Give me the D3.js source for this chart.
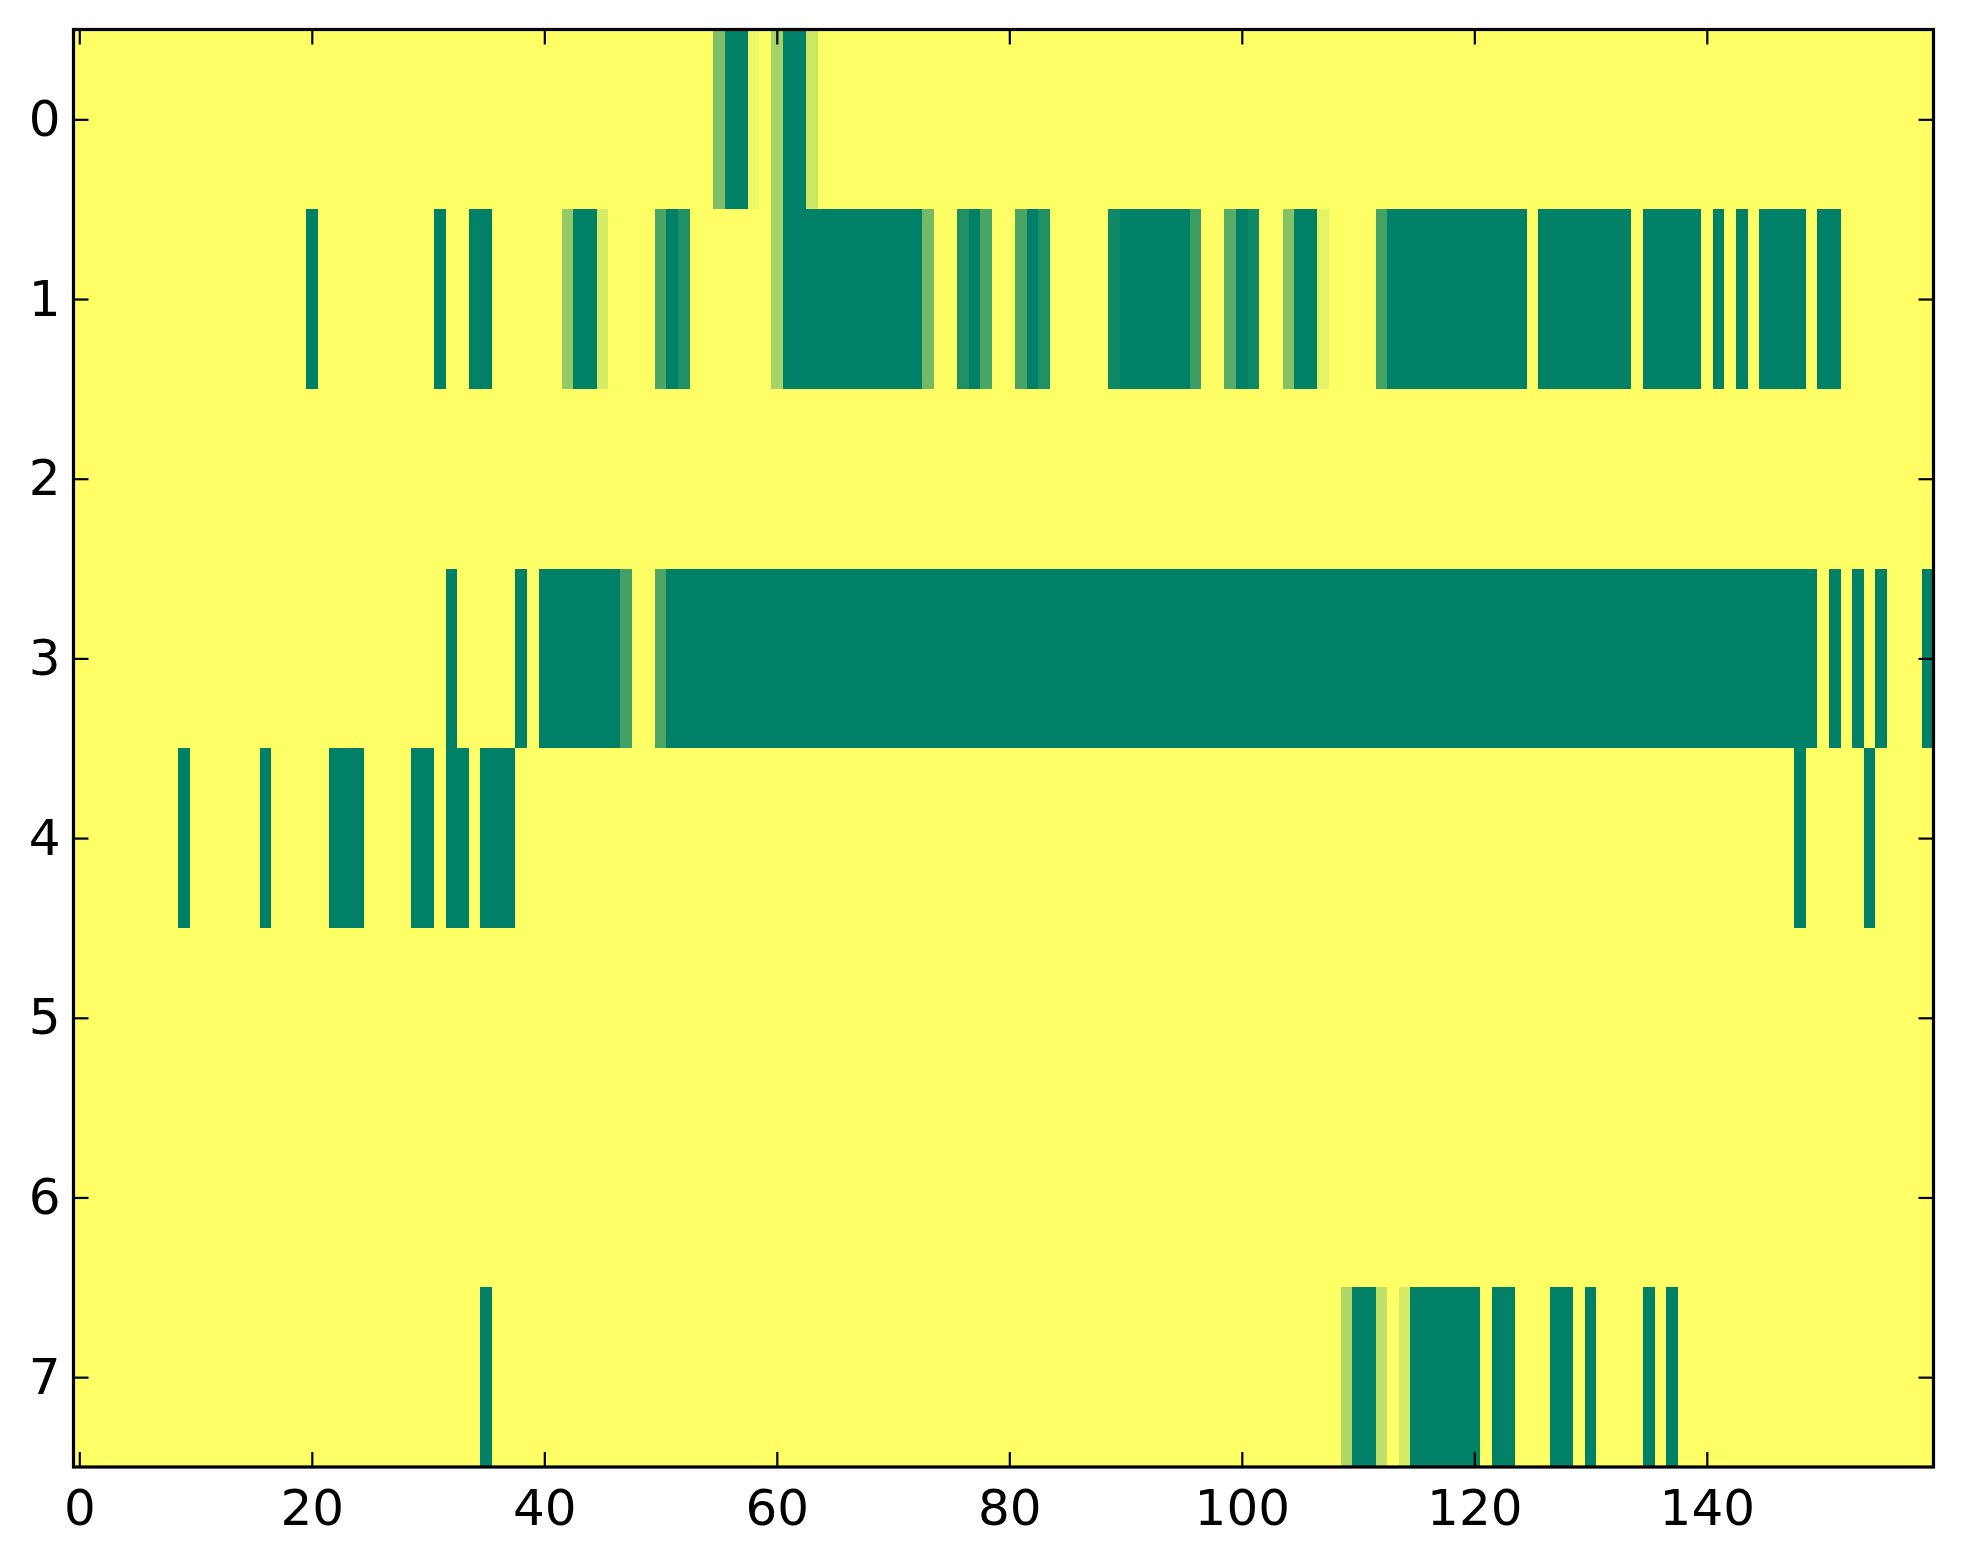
<!DOCTYPE html>
<html><head><meta charset="utf-8">
<script src="https://cdn.jsdelivr.net/npm/d3@7"></script>
<style>html,body{margin:0;padding:0;background:#fff;} svg{display:block;}</style>
</head><body>
<script>
// Row labels (y categories) and x tick labels
const rowLabels = [0, 1, 2, 3, 4, 5, 6, 7];
const xTickValues = [0, 20, 40, 60, 80, 100, 120, 140];

// Cell values per row, 160 columns each (0 = green, 1 = yellow)
const row0 = [
  1,1,1,1,1,1,1,1,1,1,1,1,1,1,1,1,1,1,1,1,
  1,1,1,1,1,1,1,1,1,1,1,1,1,1,1,1,1,1,1,1,
  1,1,1,1,1,1,1,1,1,1,1,1,1,1,1,0.49,0,0,0.94,1,
  0.65,0,0,0.8,1,1,1,1,1,1,1,1,1,1,1,1,1,1,1,1,
  1,1,1,1,1,1,1,1,1,1,1,1,1,1,1,1,1,1,1,1,
  1,1,1,1,1,1,1,1,1,1,1,1,1,1,1,1,1,1,1,1,
  1,1,1,1,1,1,1,1,1,1,1,1,1,1,1,1,1,1,1,1,
  1,1,1,1,1,1,1,1,1,1,1,1,1,1,1,1,1,1,1,1
];
const row1 = [
  1,1,1,1,1,1,1,1,1,1,1,1,1,1,1,1,1,1,1,1,
  0,1,1,1,1,1,1,1,1,1,1,0,1,1,0,0,1,1,1,1,
  1,1,0.58,0,0,0.84,1,1,1,1,0.29,0,0.12,1,1,1,1,1,1,1,
  0.65,0,0,0,0,0,0,0,0,0,0,0,0,0.45,1,1,0.12,0,0.29,1,
  1,0.29,0,0.12,1,1,1,1,1,0.06,0,0,0,0,0,0,0.23,1,1,0.35,
  0,0.06,1,1,0.52,0,0,0.9,1,1,1,1,0.27,0,0,0,0,0,0,0,
  0,0,0,0,0,1,0,0,0,0,0,0,0,0,1,0,0,0,0,0,
  1,0,1,0,1,0,0,0,0,1,0,0,1,1,1,1,1,1,1,1
];
const row2 = [
  1,1,1,1,1,1,1,1,1,1,1,1,1,1,1,1,1,1,1,1,
  1,1,1,1,1,1,1,1,1,1,1,1,1,1,1,1,1,1,1,1,
  1,1,1,1,1,1,1,1,1,1,1,1,1,1,1,1,1,1,1,1,
  1,1,1,1,1,1,1,1,1,1,1,1,1,1,1,1,1,1,1,1,
  1,1,1,1,1,1,1,1,1,1,1,1,1,1,1,1,1,1,1,1,
  1,1,1,1,1,1,1,1,1,1,1,1,1,1,1,1,1,1,1,1,
  1,1,1,1,1,1,1,1,1,1,1,1,1,1,1,1,1,1,1,1,
  1,1,1,1,1,1,1,1,1,1,1,1,1,1,1,1,1,1,1,1
];
const row3 = [
  1,1,1,1,1,1,1,1,1,1,1,1,1,1,1,1,1,1,1,1,
  1,1,1,1,1,1,1,1,1,1,1,1,0,1,1,1,1,1,0,1,
  0,0,0,0,0,0,0,0.26,1,1,0.3,0,0,0,0,0,0,0,0,0,
  0,0,0,0,0,0,0,0,0,0,0,0,0,0,0,0,0,0,0,0,
  0,0,0,0,0,0,0,0,0,0,0,0,0,0,0,0,0,0,0,0,
  0,0,0,0,0,0,0,0,0,0,0,0,0,0,0,0,0,0,0,0,
  0,0,0,0,0,0,0,0,0,0,0,0,0,0,0,0,0,0,0,0,
  0,0,0,0,0,0,0,0,0,0,1,0,1,0,1,0,1,1,1,0
];
const row4 = [
  1,1,1,1,1,1,1,1,1,0,1,1,1,1,1,1,0,1,1,1,
  1,1,0,0,0,1,1,1,1,0,0,1,0,0,1,0,0,0,1,1,
  1,1,1,1,1,1,1,1,1,1,1,1,1,1,1,1,1,1,1,1,
  1,1,1,1,1,1,1,1,1,1,1,1,1,1,1,1,1,1,1,1,
  1,1,1,1,1,1,1,1,1,1,1,1,1,1,1,1,1,1,1,1,
  1,1,1,1,1,1,1,1,1,1,1,1,1,1,1,1,1,1,1,1,
  1,1,1,1,1,1,1,1,1,1,1,1,1,1,1,1,1,1,1,1,
  1,1,1,1,1,1,1,1,0,1,1,1,1,1,0,1,1,1,1,1
];
const row5 = [
  1,1,1,1,1,1,1,1,1,1,1,1,1,1,1,1,1,1,1,1,
  1,1,1,1,1,1,1,1,1,1,1,1,1,1,1,1,1,1,1,1,
  1,1,1,1,1,1,1,1,1,1,1,1,1,1,1,1,1,1,1,1,
  1,1,1,1,1,1,1,1,1,1,1,1,1,1,1,1,1,1,1,1,
  1,1,1,1,1,1,1,1,1,1,1,1,1,1,1,1,1,1,1,1,
  1,1,1,1,1,1,1,1,1,1,1,1,1,1,1,1,1,1,1,1,
  1,1,1,1,1,1,1,1,1,1,1,1,1,1,1,1,1,1,1,1,
  1,1,1,1,1,1,1,1,1,1,1,1,1,1,1,1,1,1,1,1
];
const row6 = [
  1,1,1,1,1,1,1,1,1,1,1,1,1,1,1,1,1,1,1,1,
  1,1,1,1,1,1,1,1,1,1,1,1,1,1,1,1,1,1,1,1,
  1,1,1,1,1,1,1,1,1,1,1,1,1,1,1,1,1,1,1,1,
  1,1,1,1,1,1,1,1,1,1,1,1,1,1,1,1,1,1,1,1,
  1,1,1,1,1,1,1,1,1,1,1,1,1,1,1,1,1,1,1,1,
  1,1,1,1,1,1,1,1,1,1,1,1,1,1,1,1,1,1,1,1,
  1,1,1,1,1,1,1,1,1,1,1,1,1,1,1,1,1,1,1,1,
  1,1,1,1,1,1,1,1,1,1,1,1,1,1,1,1,1,1,1,1
];
const row7 = [
  1,1,1,1,1,1,1,1,1,1,1,1,1,1,1,1,1,1,1,1,
  1,1,1,1,1,1,1,1,1,1,1,1,1,1,1,0,1,1,1,1,
  1,1,1,1,1,1,1,1,1,1,1,1,1,1,1,1,1,1,1,1,
  1,1,1,1,1,1,1,1,1,1,1,1,1,1,1,1,1,1,1,1,
  1,1,1,1,1,1,1,1,1,1,1,1,1,1,1,1,1,1,1,1,
  1,1,1,1,1,1,1,1,1,0.68,0,0,0.75,1,0.84,0,0,0,0,0,
  0,1,0,0,1,1,1,0,0,1,0,1,1,1,1,0,1,0,1,1,
  1,1,1,1,1,1,1,1,1,1,1,1,1,1,1,1,1,1,1,1
];
const rows = [row0, row1, row2, row3, row4, row5, row6, row7];

const W = 1963, H = 1564;
const plot = {left: 73.5, right: 1933.5, top: 29.5, bottom: 1467};
const nCols = row0.length;

const x = d3.scaleLinear().domain([-0.5, nCols - 0.5]).range([plot.left, plot.right]);
const y = d3.scaleLinear().domain([-0.5, rows.length - 0.5]).range([plot.top, plot.bottom]);
const color = d3.scaleLinear().domain([0, 1]).range(["#008066", "#ffff66"]);

const svg = d3.select("body").append("svg")
  .attr("width", W).attr("height", H)
  .style("font-family", "'DejaVu Sans', sans-serif");
svg.append("rect").attr("width", W).attr("height", H).attr("fill", "#fff");

const cells = [];
rows.forEach((vals, r) => vals.forEach((v, c) => cells.push({r, c, v})));

svg.append("g").selectAll("rect").data(cells).join("rect")
  .attr("x", d => x(d.c - 0.5))
  .attr("y", d => y(d.r - 0.5))
  .attr("width", d => x(d.c + 0.5) - x(d.c - 0.5))
  .attr("height", d => y(d.r + 0.5) - y(d.r - 0.5))
  .attr("fill", d => color(d.v))
  .attr("shape-rendering", "crispEdges");

const fs = 50, tickLen = 15;

function styleAxis(g) {
  g.select(".domain").remove();
  g.selectAll(".tick line").attr("stroke", "#000").attr("stroke-width", 2.2);
  g.selectAll(".tick text").attr("fill", "#000").style("font-size", fs + "px")
    .style("font-family", "'DejaVu Sans', sans-serif");
}

svg.append("g").attr("transform", `translate(0,${plot.bottom})`)
  .call(d3.axisBottom(x).tickValues(xTickValues).tickSizeInner(-tickLen).tickSizeOuter(0).tickPadding(22))
  .call(styleAxis);
svg.append("g").attr("transform", `translate(0,${plot.top})`)
  .call(d3.axisTop(x).tickValues(xTickValues).tickSizeInner(-tickLen).tickSizeOuter(0).tickFormat(""))
  .call(styleAxis);
svg.append("g").attr("transform", `translate(${plot.left},0)`)
  .call(d3.axisLeft(y).tickValues(rowLabels).tickSizeInner(-tickLen).tickSizeOuter(0).tickPadding(13))
  .call(styleAxis);
svg.append("g").attr("transform", `translate(${plot.right},0)`)
  .call(d3.axisRight(y).tickValues(rowLabels).tickSizeInner(-tickLen).tickSizeOuter(0).tickFormat(""))
  .call(styleAxis);

svg.append("rect")
  .attr("x", plot.left).attr("y", plot.top)
  .attr("width", plot.right - plot.left).attr("height", plot.bottom - plot.top)
  .attr("fill", "none").attr("stroke", "#000").attr("stroke-width", 3.2);
</script>
</body></html>
